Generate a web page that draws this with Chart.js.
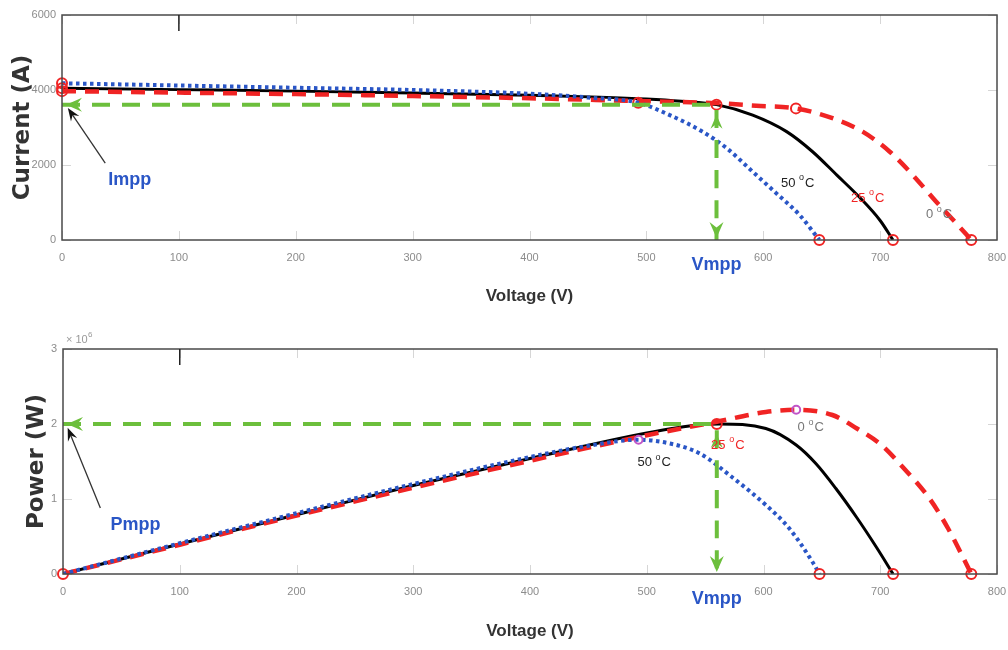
<!DOCTYPE html>
<html>
<head>
<meta charset="utf-8">
<script src="https://cdn.jsdelivr.net/npm/chart.js@4.4.0/dist/chart.umd.min.js"></script>
<style>
  body { margin: 0; background: #fff; }
  .box { position: absolute; left: 0; width: 1008px; height: 325px; }
  #topBox { top: 0; }
  #botBox { top: 325px; }
</style>
</head>
<body>
<div class="box" id="topBox"><canvas id="ivChart"></canvas></div>
<div class="box" id="botBox"><canvas id="pvChart"></canvas></div>
<script>
// ---- values ----
// I-V curves (V, A)
const volt50 = [0, 100, 200, 300, 400, 450, 493, 520, 548, 569, 591, 611, 631, 648];
const curr50 = [4180, 4120, 4060, 4000, 3900, 3800, 3660, 3330, 2890, 2440, 1820, 1250, 670, 0];
const volt25 = [0, 100, 200, 300, 400, 460, 500, 530, 560, 591, 620, 642, 663, 683, 700, 711];
const curr25 = [4050, 4010, 3970, 3920, 3860, 3810, 3760, 3700, 3610, 3330, 2890, 2360, 1730, 1120, 520, 0];
const volt0 = [0, 100, 200, 300, 400, 500, 560, 594, 628, 660, 685, 708, 728, 748, 765, 778];
const curr0 = [3970, 3930, 3890, 3840, 3780, 3700, 3650, 3580, 3510, 3240, 2890, 2360, 1730, 1020, 450, 0];

// P-V curves (V, W)
const pvVolt50 = [0, 100, 200, 300, 400, 450, 492, 520, 545, 574, 602, 622, 642, 648];
const pow50 = [0, 0.41e6, 0.81e6, 1.2e6, 1.56e6, 1.71e6, 1.79e6, 1.74e6, 1.61e6, 1.28e6, 0.92e6, 0.61e6, 0.16e6, 0];
const pvVolt25 = [0, 100, 200, 300, 400, 500, 545, 562, 602, 628, 645, 662, 680, 697, 711];
const pow25 = [0, 0.40e6, 0.79e6, 1.18e6, 1.54e6, 1.88e6, 1.99e6, 2.0e6, 1.94e6, 1.72e6, 1.47e6, 1.14e6, 0.75e6, 0.35e6, 0];
const pvVolt0 = [0, 100, 200, 300, 400, 500, 560, 602, 628, 659, 680, 701, 719, 742, 758, 778];
const pow0 = [0, 0.39e6, 0.78e6, 1.15e6, 1.51e6, 1.85e6, 2.03e6, 2.16e6, 2.19e6, 2.12e6, 1.94e6, 1.72e6, 1.43e6, 1.01e6, 0.61e6, 0];

// special points, order: 50 °C, 25 °C, 0 °C
const mppVolt = [493, 560, 628];
const mppCurr = [3660, 3610, 3510];
const mppPow = [1.79e6, 2.0e6, 2.19e6];
const vocVolt = [648, 711, 778];
const iscCurr = [4180, 4050, 3970];

const currTicks = [0, 2000, 4000, 6000];
const powTicks = [0, 1e6, 2e6, 3e6];

// ---- styling ----
const sans = "'Liberation Sans', Arial, sans-serif";
const blue = "#2a56c6";
const red = "#f02424";
const green = "#6cbf3c";
const magenta = "#c055c8";
const tickGray = "#8c8c8c";

const pts = (xs, ys) => xs.map((v, i) => ({ x: v, y: ys[i] }));

function arrowHead(ctx, tx, ty, ang, len, half, color) {
  const bx = tx - Math.cos(ang) * len, by = ty - Math.sin(ang) * len;
  const mx = tx - Math.cos(ang) * len * 0.65, my = ty - Math.sin(ang) * len * 0.65;
  const nx = -Math.sin(ang), ny = Math.cos(ang);
  ctx.beginPath();
  ctx.moveTo(tx, ty);
  ctx.lineTo(bx + nx * half, by + ny * half);
  ctx.lineTo(mx, my);
  ctx.lineTo(bx - nx * half, by - ny * half);
  ctx.closePath();
  ctx.fillStyle = color;
  ctx.fill();
}

// "50 °C" with the small raised o
function drawTemp(ctx, cx, cy, num, color) {
  ctx.font = "13px " + sans;
  const w1 = ctx.measureText(num + " ").width;
  const w3 = ctx.measureText("C").width;
  ctx.font = "9px " + sans;
  const w2 = ctx.measureText("o").width;
  const x0 = cx - (w1 + w2 + w3) / 2;
  ctx.fillStyle = color;
  ctx.textAlign = "left";
  ctx.textBaseline = "middle";
  ctx.font = "13px " + sans;
  ctx.fillText(num + " ", x0, cy);
  ctx.font = "9px " + sans;
  ctx.fillText("o", x0 + w1, cy - 5);
  ctx.font = "13px " + sans;
  ctx.fillText("C", x0 + w1 + w2 + 1, cy);
}

function decor(cfg) {
  return {
    id: "decor",
    beforeDatasetsDraw(chart) {
      const { ctx, chartArea: a, scales: { x, y } } = chart;
      ctx.save();
      ctx.strokeStyle = "#d6d6d6";
      ctx.lineWidth = 1;
      ctx.beginPath();
      x.ticks.forEach(t => {
        const p = Math.round(x.getPixelForValue(t.value)) + 0.5;
        ctx.moveTo(p, a.bottom); ctx.lineTo(p, a.bottom - 9);
        ctx.moveTo(p, a.top); ctx.lineTo(p, a.top + 9);
      });
      y.ticks.forEach(t => {
        const p = Math.round(y.getPixelForValue(t.value)) + 0.5;
        ctx.moveTo(a.left, p); ctx.lineTo(a.left + 9, p);
        ctx.moveTo(a.right, p); ctx.lineTo(a.right - 9, p);
      });
      ctx.stroke();
      ctx.restore();
    },
    afterDatasetsDraw(chart) {
      const { ctx, chartArea: a, scales: { x, y } } = chart;
      ctx.save();
      // axes box
      ctx.strokeStyle = "#4a4a4a";
      ctx.lineWidth = 1.5;
      ctx.strokeRect(a.left, a.top, a.right - a.left, a.bottom - a.top);
      const p100 = x.getPixelForValue(100);
      ctx.strokeStyle = "#222";
      ctx.beginPath();
      ctx.moveTo(p100, a.top);
      ctx.lineTo(p100, a.top + 16);
      ctx.stroke();

      // green arrow heads
      const mx = x.getPixelForValue(cfg.mppX);
      const my = y.getPixelForValue(cfg.mppY);
      arrowHead(ctx, x.getPixelForValue(0) + 4, my, Math.PI, 16, 7, green);
      arrowHead(ctx, mx, y.getPixelForValue(0) - 2, Math.PI / 2, 16, 7, green);
      arrowHead(ctx, mx, my + 10, -Math.PI / 2, 14, 6, green);

      // temperature labels
      cfg.temps.forEach(t => drawTemp(ctx, x.getPixelForValue(t.x), y.getPixelForValue(t.y), t.num, t.color));

      // Impp / Pmpp pointer
      const tipX = x.getPixelForValue(cfg.ptr.tip[0]), tipY = y.getPixelForValue(cfg.ptr.tip[1]);
      const fromX = x.getPixelForValue(cfg.ptr.from[0]), fromY = y.getPixelForValue(cfg.ptr.from[1]);
      const ang = Math.atan2(tipY - fromY, tipX - fromX);
      ctx.strokeStyle = "#333";
      ctx.lineWidth = 1.3;
      ctx.beginPath();
      ctx.moveTo(fromX, fromY);
      ctx.lineTo(tipX - Math.cos(ang) * 8, tipY - Math.sin(ang) * 8);
      ctx.stroke();
      arrowHead(ctx, tipX, tipY, ang, 13, 5, "#111");
      ctx.font = "bold 18px " + sans;
      ctx.fillStyle = blue;
      ctx.textAlign = "center";
      ctx.textBaseline = "middle";
      ctx.fillText(cfg.ptr.text, x.getPixelForValue(cfg.ptr.at[0]), y.getPixelForValue(cfg.ptr.at[1]));

      // Vmpp under the axis
      ctx.fillText("Vmpp", mx, a.bottom + 25);

      if (cfg.exponent) {
        ctx.fillStyle = "#999";
        ctx.textAlign = "left";
        ctx.font = "11px " + sans;
        ctx.fillText("\u00d7 10", a.left + 3, a.top - 9);
        ctx.font = "8px " + sans;
        ctx.fillText("6", a.left + 25, a.top - 14);
      }
      ctx.restore();
    }
  };
}

function curve(label, data, color, width, dash, order) {
  return {
    label, data, order,
    borderColor: color,
    borderWidth: width,
    borderDash: dash,
    pointRadius: 0,
    cubicInterpolationMode: "monotone",
    fill: false
  };
}

function circles(data, color, r) {
  return {
    type: "scatter",
    data,
    order: 1,
    showLine: false,
    clip: false,
    pointRadius: r,
    pointHoverRadius: r,
    pointBorderWidth: 2,
    borderColor: color,
    backgroundColor: "rgba(0,0,0,0)"
  };
}

function makeChart(id, o) {
  return new Chart(document.getElementById(id).getContext("2d"), {
    type: "line",
    data: { datasets: o.datasets },
    options: {
      responsive: true,
      maintainAspectRatio: false,
      animation: false,
      parsing: false,
      layout: { padding: { top: o.padTop, right: 11, left: 0, bottom: 0 } },
      plugins: { legend: { display: false }, tooltip: { enabled: false } },
      scales: {
        x: {
          type: "linear",
          min: 0,
          max: 800,
          // invisible tick marks just push the labels down
          grid: { display: true, drawOnChartArea: false, drawTicks: true, tickLength: 11, color: "rgba(0,0,0,0)" },
          border: { display: false },
          ticks: { stepSize: 100, padding: 0, color: tickGray, font: { family: sans, size: 11 } },
          title: {
            display: true,
            text: "Voltage (V)",
            color: "#333",
            font: { family: sans, size: 17, weight: "bold" },
            padding: { top: 0, bottom: o.xTitlePad }
          },
          afterFit: s => { s.height = o.xHeight; }
        },
        y: {
          type: "linear",
          min: o.yTicks[0],
          max: o.yTicks[o.yTicks.length - 1],
          grid: { display: false, drawTicks: false },
          border: { display: false },
          afterBuildTicks: s => { s.ticks = o.yTicks.map(v => ({ value: v })); },
          ticks: {
            padding: 6,
            color: tickGray,
            font: { family: sans, size: 11 },
            callback: o.yFmt
          },
          title: {
            display: true,
            text: o.yTitle,
            color: "#333",
            font: { family: "'DejaVu Sans', sans-serif", size: 23, weight: "bold" },
            padding: { top: o.yTitlePad, bottom: 0 }
          },
          afterFit: s => { s.width = o.yWidth; }
        }
      }
    },
    plugins: [decor(o.decor)]
  });
}

// top: current vs voltage
makeChart("ivChart", {
  padTop: 15, xHeight: 85, yWidth: 62, xTitlePad: 18, yTitlePad: 9,
  yTicks: currTicks,
  yTitle: "Current (A)",
  yFmt: v => String(v),
  datasets: [
    curve("mpp guide", [{ x: 0, y: mppCurr[1] }, { x: mppVolt[1], y: mppCurr[1] }, { x: mppVolt[1], y: 0 }], green, 4, [18, 12], 0),
    circles(
      pts([0, 0, 0], iscCurr)
        .concat(pts(mppVolt, mppCurr))
        .concat(pts(vocVolt, [0, 0, 0])),
      red, 5),
    curve("50 °C", pts(volt50, curr50), blue, 4, [3.5, 3.5], 2),
    curve("0 °C", pts(volt0, curr0), red, 4.5, [14, 9], 3),
    curve("25 °C", pts(volt25, curr25), "#000", 3, [], 4)
  ],
  decor: {
    mppX: mppVolt[1], mppY: mppCurr[1],
    temps: [
      { num: "50", x: 629, y: 1520, color: "#222" },
      { num: "25", x: 689, y: 1120, color: red },
      { num: "0", x: 750, y: 690, color: "#777" }
    ],
    ptr: { text: "Impp", at: [58, 1600], from: [37, 2050], tip: [5, 3520] },
    exponent: false
  }
});

// bottom: power vs voltage
makeChart("pvChart", {
  padTop: 24, xHeight: 76, yWidth: 63, xTitlePad: 8, yTitlePad: 23,
  yTicks: powTicks,
  yTitle: "Power (W)",
  yFmt: v => String(v / 1e6),
  datasets: [
    curve("mpp guide", [{ x: 0, y: mppPow[1] }, { x: mppVolt[1], y: mppPow[1] }, { x: mppVolt[1], y: 0 }], green, 4, [18, 12], 0),
    circles([{ x: 0, y: 0 }, { x: mppVolt[1], y: mppPow[1] }].concat(pts(vocVolt, [0, 0, 0])), red, 5),
    circles([{ x: mppVolt[0], y: mppPow[0] }, { x: mppVolt[2], y: mppPow[2] }], magenta, 4),
    curve("50 °C", pts(pvVolt50, pow50), blue, 4, [3.5, 3.5], 2),
    curve("0 °C", pts(pvVolt0, pow0), red, 4.5, [14, 9], 3),
    curve("25 °C", pts(pvVolt25, pow25), "#000", 3, [], 4)
  ],
  decor: {
    mppX: mppVolt[1], mppY: mppPow[1],
    temps: [
      { num: "50", x: 506, y: 1.49e6, color: "#222" },
      { num: "25", x: 569, y: 1.72e6, color: red },
      { num: "0", x: 640, y: 1.95e6, color: "#777" }
    ],
    ptr: { text: "Pmpp", at: [62, 0.65e6], from: [32, 0.88e6], tip: [4, 1.95e6] },
    exponent: true
  }
});
</script>
</body>
</html>
